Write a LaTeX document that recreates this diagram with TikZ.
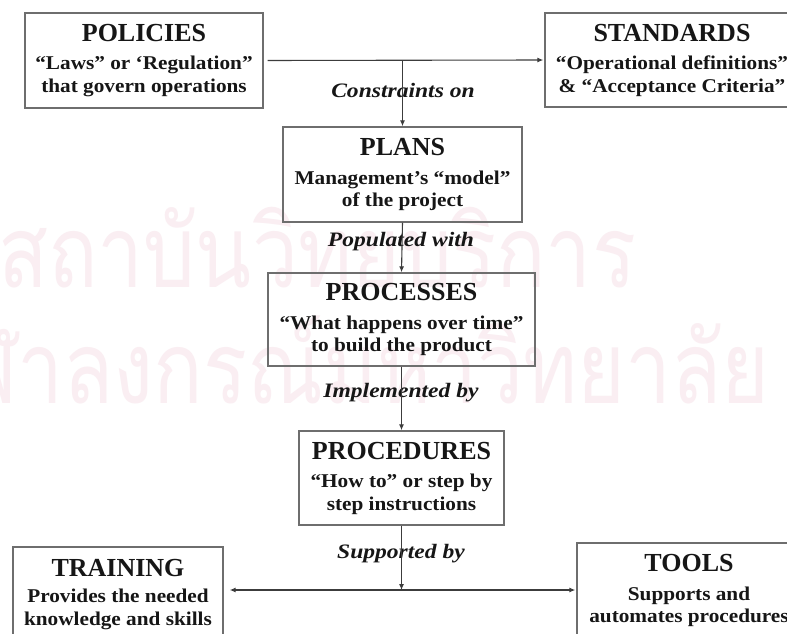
\documentclass[tikz,border=0pt]{standalone}
\usepackage{fontspec}
\setmainfont{Liberation Serif}
\newfontfamily\bodyfont[FakeStretch=1.09]{Liberation Serif}
\newfontfamily\labelfont[FakeStretch=1.15]{Liberation Serif}
\newfontfamily\thaifont[Script=Thai,FakeStretch=0.82]{Loma}
\usetikzlibrary{arrows.meta}

\definecolor{wmark}{RGB}{250,238,242}
\definecolor{boxline}{RGB}{110,110,110}
\definecolor{arrowline}{RGB}{60,60,60}
\definecolor{ink}{RGB}{22,22,22}

\newcommand{\boxtitle}[1]{{\fontsize{26}{28}\fontspec{Liberation Serif}\bfseries #1}}

\begin{document}
\begin{tikzpicture}[x=1pt,y=-1pt,
  infobox/.style={draw=boxline, line width=1.4pt, fill=none, align=center,
    inner sep=0pt, text=ink, font=\fontsize{19.5}{22.5}\bodyfont\bfseries},
  linklabel/.style={inner sep=0pt, text=ink,
    font=\fontsize{20.5}{22}\labelfont\bfseries\itshape},
  conn/.style={draw=arrowline, line width=1.1pt},
  tip/.style={conn, -{Latex[length=6pt,width=5pt]}},
  wmtext/.style={text=wmark, inner sep=0pt,
    font=\fontsize{100}{110}\thaifont}]

\useasboundingbox (0,0) rectangle (787,634);
\fill[white] (0,0) rectangle (787,634);
\clip (0,0) rectangle (787,634);

% background watermark lettering
\node[wmtext, anchor=base west] (wm1) at (-2,287) {สถาบันวิทยบริการ};
\node[wmtext, anchor=base east] (wm2) at (770,403) {จุฬาลงกรณ์มหาวิทยาลัย};

% boxes
\node[infobox, minimum width=238pt, minimum height=95pt] (pol) at (144,60.5)
  {\boxtitle{POLICIES}\\[6pt]“Laws” or ‘Regulation”\\that govern operations};
\node[infobox, minimum width=254pt, minimum height=94pt] (std) at (672,60)
  {\boxtitle{STANDARDS}\\[6pt]“Operational definitions”\\\& “Acceptance Criteria”};
\node[infobox, minimum width=239pt, minimum height=95pt] (plans) at (402.5,174.5)
  {\boxtitle{PLANS}\\[6pt]Management’s “model”\\of the project};
\node[infobox, minimum width=267pt, minimum height=93pt] (proc) at (401.5,319.5)
  {\boxtitle{PROCESSES}\\[6pt]“What happens over time”\\to build the product};
\node[infobox, minimum width=205pt, minimum height=94pt] (procd) at (401.5,478)
  {\boxtitle{PROCEDURES}\\[6pt]“How to” or step by\\step instructions};
\node[infobox, minimum width=210pt, minimum height=95pt] (train) at (118,594.5)
  {\boxtitle{TRAINING}\\[4pt]Provides the needed\\knowledge and skills};
\node[infobox, minimum width=224pt, minimum height=95pt] (tools) at (689,590.5)
  {\boxtitle{TOOLS}\\[6pt]Supports and\\automates procedures};

% connector labels
\node[linklabel] (l1) at (403,90) {Constraints on};
\node[linklabel] (l2) at (401,242) {Populated with};
\node[linklabel] (l3) at (401,393) {Implemented by};
\node[linklabel] (l4) at (401,554) {Supported by};

% connectors
\coordinate (top) at (pol.east -| plans.north);
\coordinate (split) at (401.5,590);
\draw[tip, shorten <=4pt, shorten >=1pt] (pol.east) -- (std.west);
\draw[tip] (top) -- (plans.north);
\draw[tip] (plans.south) -- (proc.north);
\draw[tip] (proc.south) -- (procd.north);
\draw[tip] (procd.south) -- (split);
\draw[tip, shorten >=6pt] (split) -- (train.east |- split);
\draw[tip, shorten >=1pt] (split) -- (tools.west |- split);
\end{tikzpicture}
\end{document}
